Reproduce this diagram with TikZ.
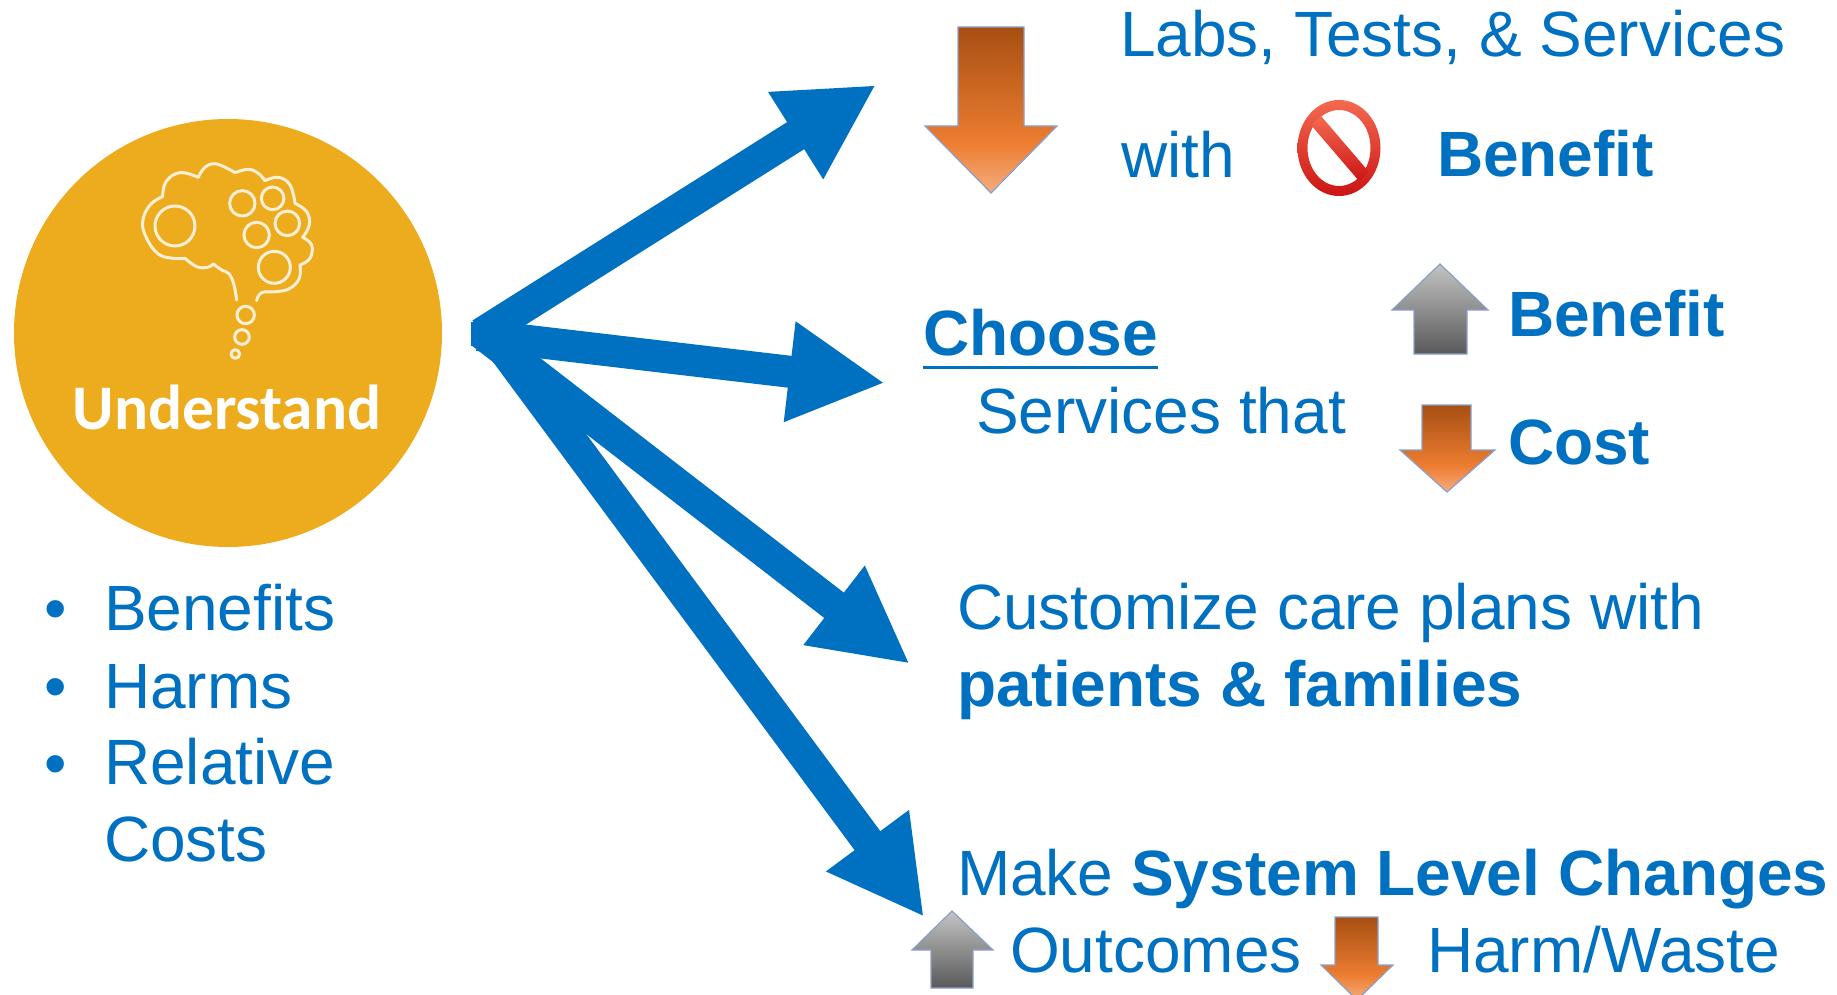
\documentclass[tikz,border=0pt]{standalone}
\usepackage{fontspec}
\setmainfont{Liberation Sans}
\newfontfamily\carlito{Carlito}
\usetikzlibrary{arrows.meta}
\definecolor{txtblue}{HTML}{0070C0}
\definecolor{gold}{HTML}{EDAB1E}
\definecolor{brainline}{HTML}{FBEFD6}
\definecolor{arrowedge}{HTML}{8C9FCB}
\definecolor{oTop}{HTML}{A64F12}
\definecolor{oMid}{HTML}{ED7D31}
\definecolor{oBot}{HTML}{F4AE7E}
\definecolor{gTop}{HTML}{C4C4C4}
\definecolor{gBot}{HTML}{595959}
\definecolor{noLight}{HTML}{F46A50}
\definecolor{noDark}{HTML}{CC1414}
\pgfdeclareverticalshading{orangearrow}{100bp}{color(0bp)=(oBot);color(25bp)=(oBot);color(40bp)=(oMid);color(75bp)=(oTop);color(100bp)=(oTop)}
\pgfdeclareverticalshading{greyarrow}{100bp}{color(0bp)=(gBot);color(25bp)=(gBot);color(75bp)=(gTop);color(100bp)=(gTop)}
\tikzset{
  lbl/.style={inner sep=0pt,outer sep=0pt,anchor=base west,text=txtblue,align=left,font=\fontsize{64}{76.5}\selectfont},
  lblb/.style={lbl,font=\fontsize{64}{76.5}\selectfont\bfseries},
  bigarrow/.style 2 args={draw=txtblue,line width=32pt,-{Triangle[length=#1pt,width=#2pt,fill=txtblue]}},
  downfill/.style={shading=orangearrow,draw=arrowedge,line width=1.2pt},
  upfill/.style={shading=greyarrow,draw=arrowedge,line width=1.2pt},
  brain/.style={draw=brainline,line width=3pt,line cap=round,line join=round},
  nosign/.style={top color=noLight,bottom color=noDark,draw=none},
}
\begin{document}
\begin{tikzpicture}[x=1pt,y=-1pt]
\useasboundingbox (0,0) rectangle (1837,995);
\clip (0,0) rectangle (1837,995);
% circle
\node[circle,fill=gold,minimum size=428pt,inner sep=0pt] (circ) at (228,333) {};
\node[inner sep=0pt,anchor=base,text=white,font=\fontsize{63.5}{70}\selectfont\carlito\bfseries] (und) at (227,429) {Understand};
% brain
\begin{scope}[shift={(130,150)},x=0.3333pt,y=-0.3333pt]
\draw[brain] plot[smooth,tension=0.7] coordinates {(320,450) (312,405) (298,372) (275,360) (250,342)};
\draw[brain] plot[smooth,tension=0.7] coordinates {(250,342) (232,352) (200,350) (165,325)};
\draw[brain] plot[smooth,tension=0.7] coordinates {(165,325) (130,325) (85,312) (50,265) (38,215) (60,165) (98,140)};
\draw[brain] plot[smooth,tension=0.7] coordinates {(98,140) (108,95) (150,68) (205,82)};
\draw[brain] plot[smooth,tension=0.7] coordinates {(205,82) (225,52) (260,42) (315,68)};
\draw[brain] plot[smooth,tension=0.7] coordinates {(315,68) (355,58) (385,70) (405,92)};
\draw[brain] plot[smooth,tension=0.7] coordinates {(405,92) (445,82) (480,105) (495,160)};
\draw[brain] plot[smooth,tension=0.7] coordinates {(495,160) (530,185) (538,225) (518,262)};
\draw[brain] plot[smooth,tension=0.7] coordinates {(518,262) (545,285) (540,325) (510,345)};
\draw[brain] plot[smooth,tension=0.7] coordinates {(510,345) (508,385) (480,415) (440,425) (395,428) (380,452)};
\foreach \cx/\cy/\r in {135/228/20,337/160/12.7,428/145/11.3,472/220/12.3,380/255/12.7,433/352/16,347/495/8.7,336/561/7.3,316/612/4.3}
  \draw[brain] (\cx,\cy) circle[radius=\r pt];
\end{scope}
% bullets
\node[lbl] (b1) at (44,630) {•};
\node[lbl] (b2) at (44,708) {•};
\node[lbl] (b3) at (44,785) {•};
\node[lbl] (t1) at (104,630) {Benefits};
\node[lbl] (t2) at (104,708) {Harms};
\node[lbl] (t3) at (104,861) {Relative\\Costs};
% connectors
\node[fill=txtblue,inner sep=0pt,minimum width=16pt,minimum height=24pt,anchor=west] (hub) at (471,333.5) {};
\coordinate (tailA) at (481,334);
\coordinate (tailB) at (478,335);
\coordinate (tailC) at (481,332.5);
\coordinate (tailD) at (490,331);
\coordinate (tipA) at (876,85);
\coordinate (tipB) at (885,383);
\coordinate (tipC) at (910,664);
\coordinate (tipD) at (924,917);
\draw[bigarrow={95}{96}] (tailA) -- (tipA);
\draw[bigarrow={96}{94}] (tailB) -- (tipB);
\draw[bigarrow={96}{93}] (tailC) -- (tipC);
\draw[bigarrow={95}{96}] (tailD) -- (tipD);
% block arrows
\path[downfill] (958,27) -- (1024,27) -- (1024,126) -- (1057,126) -- (991,193) -- (925,126) -- (958,126) -- cycle;
\path[upfill] (1440,264) -- (1488,310) -- (1467,310) -- (1467,354) -- (1414,354) -- (1414,310) -- (1392,310) -- cycle;
\path[downfill] (1422,405) -- (1471,405) -- (1471,450) -- (1495,450) -- (1447,492) -- (1400,450) -- (1422,450) -- cycle;
\path[upfill] (952,911) -- (993,950) -- (973,950) -- (973,988) -- (931,988) -- (931,950) -- (912,950) -- cycle;
\path[downfill] (1335,917) -- (1378,917) -- (1378,965) -- (1393,965) -- (1357,1000) -- (1321,965) -- (1335,965) -- cycle;
% prohibition sign
\path[nosign,even odd rule] (1339,148) ellipse[x radius=41.5pt,y radius=48pt] (1339,148) ellipse[x radius=31.5pt,y radius=38pt];
\path[nosign] (1311,125) -- (1321,116) -- (1369,172) -- (1359,181) -- cycle;
% texts
\node[lbl] (labs) at (1120,57) {Labs, Tests, \& Services};
\node[lbl] (with) at (1121,178) {with};
\node[lblb] (ben1) at (1437,177) {Benefit};
\node[lblb] (choose) at (923,355) {Choose};
\draw[txtblue,line width=3pt] ([yshift=-12pt]choose.base west) -- ([yshift=-12pt]choose.base east);
\node[lbl] (serv) at (976,433) {Services that};
\node[lblb] (ben2) at (1508,336) {Benefit};
\node[lblb] (cost) at (1508,464) {Cost};
\node[lbl] (cust) at (957,706) {Customize care plans with\\\textbf{patients \& families}};
\node[lbl] (make) at (957,895) {Make \textbf{System Level Changes}};
\node[lbl] (outc) at (1010,972) {Outcomes};
\node[lbl] (harm) at (1427,972) {Harm/Waste};
\end{tikzpicture}
\end{document}
